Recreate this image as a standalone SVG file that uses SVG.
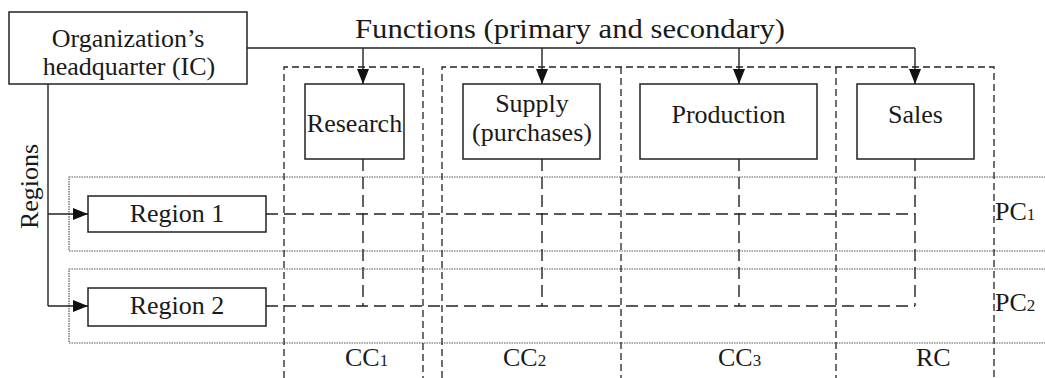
<svg xmlns="http://www.w3.org/2000/svg" width="1045" height="378" viewBox="0 0 1045 378">
<style>
text{font-family:"Liberation Serif","Times New Roman",serif;font-size:26px;fill:#1a1a1a}
.box{fill:#fff;stroke:#222;stroke-width:1.5}
.solid{fill:none;stroke:#222;stroke-width:1.4}
.dash{fill:none;stroke:#222;stroke-width:1.4;stroke-dasharray:12 6}
.col{fill:none;stroke:#222;stroke-width:1.3;stroke-dasharray:7 4}
.dot{fill:none;stroke:#555;stroke-width:1.2;stroke-dasharray:1.5 1}
.sub{font-size:17px}
.mid{text-anchor:middle}
</style>
<defs>
<marker id="ah" viewBox="0 0 15 12" refX="15" refY="6" markerWidth="15" markerHeight="12" markerUnits="userSpaceOnUse" orient="auto">
<path d="M0,0 L15,6 L0,12 Z" fill="#111"/>
</marker>
</defs>
<rect width="1045" height="378" fill="#fff"/>

<g id="rows">
<rect class="dot" x="69" y="177" width="990" height="74"/>
<rect class="dot" x="69" y="269" width="990" height="74"/>
</g>

<g id="columns">
<path class="col" d="M284,378 V67 H423 V378"/>
<path class="col" d="M442,378 V67 H994 V378"/>
<path class="col" d="M621,67 V378"/>
<path class="col" d="M836,67 V378"/>
</g>

<g id="connectors">
<path class="solid" d="M247,48 H915"/>
<path class="solid" d="M363,48 V84" marker-end="url(#ah)"/>
<path class="solid" d="M542,48 V84" marker-end="url(#ah)"/>
<path class="solid" d="M739,48 V84" marker-end="url(#ah)"/>
<path class="solid" d="M915,48 V84" marker-end="url(#ah)"/>
<path class="solid" d="M48,84 V306"/>
<path class="solid" d="M48,214 H88" marker-end="url(#ah)"/>
<path class="solid" d="M48,306 H88" marker-end="url(#ah)"/>
<path class="dash" d="M266,214 H915"/>
<path class="dash" d="M266,306 H915"/>
<path class="dash" d="M363,159 V306"/>
<path class="dash" d="M542,159 V306"/>
<path class="dash" d="M739,159 V306"/>
<path class="dash" d="M915,159 V306"/>
</g>

<g id="hq">
<rect class="box" x="9" y="12" width="238" height="72"/>
<text class="mid" x="128" y="47">Organization’s</text>
<text class="mid" x="129" y="75">headquarter (IC)</text>
</g>

<text id="title" x="355" y="38" textLength="430" lengthAdjust="spacingAndGlyphs" style="font-size:27px">Functions (primary and secondary)</text>

<g id="research">
<rect class="box" x="305" y="84" width="99" height="75"/>
<text class="mid" x="354.5" y="132">Research</text>
</g>
<g id="supply">
<rect class="box" x="463" y="84" width="137" height="75"/>
<text class="mid" x="532" y="112">Supply</text>
<text class="mid" x="532" y="141">(purchases)</text>
</g>
<g id="production">
<rect class="box" x="640" y="84" width="177" height="75"/>
<text class="mid" x="728.5" y="123">Production</text>
</g>
<g id="sales">
<rect class="box" x="857" y="84" width="117" height="75"/>
<text class="mid" x="915.5" y="123">Sales</text>
</g>

<g id="region1">
<rect class="box" x="88" y="196" width="178" height="36"/>
<text class="mid" x="177" y="222">Region 1</text>
</g>
<g id="region2">
<rect class="box" x="88" y="288" width="178" height="38"/>
<text class="mid" x="177" y="314">Region 2</text>
</g>

<text id="regions-label" class="mid" transform="translate(38,186.5) rotate(-90)">Regions</text>

<g id="labels">
<text x="995" y="220">PC<tspan class="sub">1</tspan></text>
<text x="995" y="311">PC<tspan class="sub">2</tspan></text>
<text x="345" y="366">CC<tspan class="sub">1</tspan></text>
<text x="503" y="366">CC<tspan class="sub">2</tspan></text>
<text x="718" y="366">CC<tspan class="sub">3</tspan></text>
<text x="916" y="366">RC</text>
</g>
</svg>
